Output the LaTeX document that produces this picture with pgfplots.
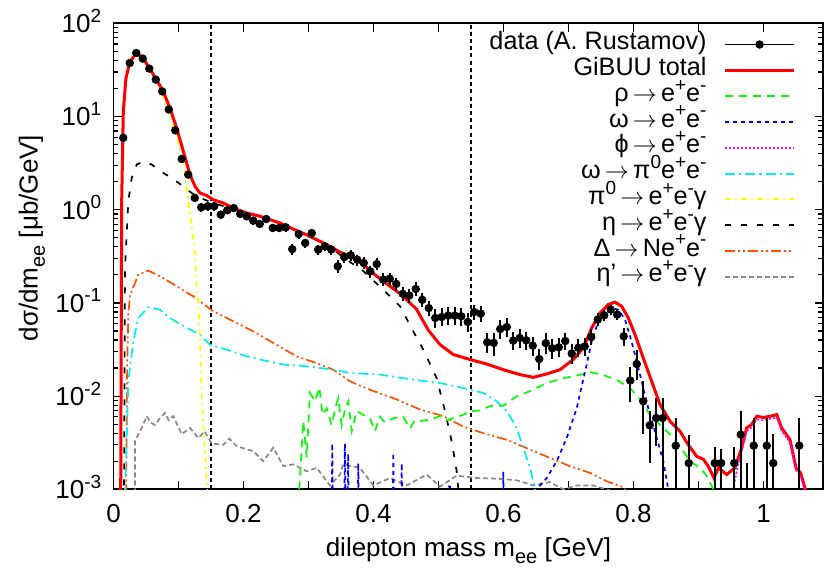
\documentclass[border=0pt]{standalone}
\usepackage{fontspec}
\setmainfont{Liberation Sans}
\usepackage{pgfplots}
\usepackage{pgfplotstable}
\pgfplotsset{compat=1.18}
\newcommand{\sups}[1]{\raisebox{0.4em}{\fontsize{9.5}{10}\selectfont #1}}
\newcommand{\subs}[1]{\raisebox{-0.28em}{\fontsize{10}{11}\selectfont #1}}
\newcommand{\ar}{\,$\rightarrow$\,}
\definecolor{cgreen}{RGB}{0,255,0}
\definecolor{cblue}{RGB}{0,0,255}
\definecolor{cmag}{RGB}{255,0,255}
\definecolor{ccyan}{RGB}{0,240,240}
\definecolor{cyel}{RGB}{255,255,0}
\definecolor{corange}{RGB}{255,80,0}
\definecolor{cgray}{RGB}{136,136,136}
\definecolor{cred}{RGB}{255,0,0}

\pgfplotstableread{
x y ylo yhi
0.015 5.9 5.7 6.1
0.025 37.5 36.4 38.6
0.035 48 46.6 49.4
0.045 41.8 40.6 43
0.055 32.7 31.7 33.7
0.065 24.9 24.2 25.6
0.075 18.6 18 19.2
0.085 11.9 11.5 12.3
0.095 7.1 6.85 7.35
0.105 3.5 3.35 3.65
0.115 2.38 2.25 2.5
0.125 1.34 1.2 1.48
0.135 1.06 0.95 1.17
0.145 1.09 0.98 1.2
0.155 1.09 0.98 1.2
0.165 0.885 0.8 0.97
0.175 0.986 0.89 1.08
0.185 1.04 0.94 1.14
0.195 0.90 0.81 0.99
0.205 0.85 0.77 0.93
0.215 0.764 0.69 0.84
0.225 0.703 0.63 0.78
0.235 0.795 0.72 0.87
0.245 0.637 0.57 0.70
0.255 0.637 0.57 0.70
0.265 0.647 0.58 0.71
0.275 0.378 0.33 0.43
0.285 0.548 0.49 0.61
0.295 0.44 0.39 0.49
0.305 0.562 0.5 0.62
0.315 0.373 0.33 0.42
0.325 0.405 0.36 0.45
0.335 0.373 0.33 0.42
0.345 0.247 0.21 0.29
0.355 0.31 0.27 0.35
0.365 0.324 0.28 0.37
0.375 0.291 0.25 0.33
0.385 0.268 0.23 0.31
0.395 0.218 0.185 0.25
0.405 0.261 0.225 0.30
0.415 0.178 0.15 0.21
0.425 0.182 0.155 0.21
0.435 0.160 0.135 0.185
0.445 0.125 0.104 0.148
0.455 0.120 0.1 0.142
0.465 0.141 0.118 0.166
0.475 0.108 0.09 0.128
0.485 0.088 0.073 0.105
0.495 0.0689 0.054 0.086
0.505 0.0706 0.056 0.088
0.515 0.073 0.058 0.09
0.525 0.073 0.058 0.09
0.535 0.072 0.057 0.089
0.545 0.0624 0.049 0.078
0.555 0.0798 0.066 0.095
0.565 0.0767 0.063 0.092
0.575 0.0378 0.029 0.048
0.585 0.0372 0.027 0.048
0.595 0.0525 0.041 0.066
0.605 0.0551 0.043 0.069
0.615 0.0394 0.031 0.049
0.625 0.042 0.033 0.052
0.635 0.0397 0.031 0.049
0.645 0.0348 0.027 0.043
0.655 0.025 0.019 0.032
0.665 0.037 0.028 0.047
0.675 0.0326 0.025 0.041
0.685 0.0334 0.026 0.042
0.695 0.039 0.031 0.048
0.705 0.0286 0.022 0.036
0.715 0.033 0.026 0.041
0.725 0.0342 0.027 0.042
0.735 0.043 0.035 0.052
0.745 0.0662 0.056 0.077
0.755 0.0736 0.064 0.084
0.765 0.0848 0.075 0.095
0.775 0.0749 0.065 0.086
0.785 0.0438 0.0342 0.054
0.795 0.0147 0.0087 0.0204
0.805 0.0221 0.015 0.0315
0.815 0.0088 0.0039 0.0144
0.825 0.00486 0.0019 0.0069
0.835 0.00582 0.0029 0.0095
0.845 0.00582 0.000001 0.0095
0.865 0.00294 0.000001 0.0058
0.885 0.00191 0.000001 0.0038
0.925 0.00191 0.000001 0.00285
0.935 0.00191 0.000001 0.0027
0.955 0.00191 0.000001 0.00285
0.965 0.00386 0.000001 0.0069
0.975 0.00098 0.000001 0.0019
0.985 0.00294 0.000001 0.0058
1.005 0.00294 0.000001 0.0058
1.015 0.00191 0.000001 0.0039
1.055 0.00294 0.000001 0.0058
}\datatab

\begin{document}
\begin{tikzpicture}
\useasboundingbox (-56.75pt,-39.35pt) rectangle (356.25pt,244.65pt);
\begin{axis}[
  scale only axis, width=354.9pt, height=233pt,
  at={(0pt,0pt)}, anchor=south west,
  xmin=0, xmax=1.092, ymin=1e-3, ymax=1e2, ymode=log,
  xtick={0,0.1,0.2,0.3,0.4,0.5,0.6,0.7,0.8,0.9,1.0},
  xticklabels={0,,0.2,,0.4,,0.6,,0.8,,1},
  ytick={1e-3,1e-2,1e-1,1,1e1,1e2},
  yticklabels={10\sups{-3},10\sups{-2},10\sups{-1},10\sups{0},10\sups{1},10\sups{2}},
  tick label style={font=\fontsize{13}{15}\selectfont, text height=9.3pt, text depth=0pt},
  xticklabel style={yshift=-3.7pt},
  yticklabel style={xshift=-2.6pt},
  major tick length=4.2pt, minor tick length=2.4pt,
  tick style={line width=0.6pt, black},
  axis line style={line width=0.9pt},
  label style={font=\fontsize{13}{15}\selectfont},
  xlabel={dilepton mass m\subs{ee} [GeV]},
  ylabel={dσ/dm\subs{ee} [μb/GeV]},
  xlabel style={at={(axis description cs:0.5,-0.131)}, anchor=center},
  ylabel style={at={(axis description cs:-0.1148,0.539)}, anchor=center},
  legend plot pos=right,
  legend cell align=right,
  legend image code/.code={\draw[#1] (0pt,0pt) -- (34.5pt,0pt);},
  legend style={draw=none, fill=none, at={(axis description cs:0.9615,0.983)}, anchor=north east,
    inner sep=0pt, row sep=0pt, column sep=8.5pt,
    font=\fontsize{12.6}{14}\selectfont,
    nodes={inner sep=0pt, text height=9pt, text depth=3.9pt}},
]
% legend entries
\addlegendimage{black, legend image code/.code={\draw[black,line width=0.6pt] (0pt,0pt) -- (34.5pt,0pt); \fill[black] (17.25pt,0pt) circle (1.9pt);}}
\addlegendentry{data (A. Rustamov)}
\addlegendimage{cred, line width=1.5pt}
\addlegendentry{GiBUU total}
\addlegendimage{cgreen, line width=0.85pt, dash pattern=on 4pt off 3pt}
\addlegendentry{ρ\ar e\sups{+}e\sups{-}}
\addlegendimage{cblue, line width=0.85pt, dash pattern=on 2pt off 2pt}
\addlegendentry{ω\ar e\sups{+}e\sups{-}}
\addlegendimage{cmag, line width=0.85pt, dash pattern=on 1pt off 1pt}
\addlegendentry{ϕ\ar e\sups{+}e\sups{-}}
\addlegendimage{ccyan, line width=1pt, dash pattern=on 5pt off 2pt on 1.2pt off 2pt}
\addlegendentry{ω\ar π\sups{0}e\sups{+}e\sups{-}}
\addlegendimage{cyel, line width=0.85pt, dash pattern=on 3pt off 2pt on 1pt off 2pt}
\addlegendentry{π\sups{0}\ar e\sups{+}e\sups{-}γ}
\addlegendimage{black, line width=0.85pt, dash pattern=on 3pt off 5pt}
\addlegendentry{η\ar e\sups{+}e\sups{-}γ}
\addlegendimage{corange, line width=0.85pt, dash pattern=on 5pt off 1.5pt on 1pt off 1.5pt on 1pt off 1.5pt}
\addlegendentry{Δ\ar Ne\sups{+}e\sups{-}}
\addlegendimage{cgray, line width=0.85pt, dash pattern=on 2.5pt off 1.5pt}
\addlegendentry{η’\ar e\sups{+}e\sups{-}γ}

% vertical dashed lines
\addplot[forget plot, black, line width=0.8pt, dash pattern=on 2pt off 1.6pt] coordinates {(0.15,0.001)(0.15,100)};
\addplot[forget plot, black, line width=0.8pt, dash pattern=on 2pt off 1.6pt] coordinates {(0.55,0.001)(0.55,100)};

% eta' (gray)
\addplot[forget plot, cgray, line width=0.85pt, dash pattern=on 2.5pt off 1.5pt] coordinates {
(0.033,0.0005)(0.0331,0.0033)(0.0434,0.00455)(0.0511,0.0061)(0.057,0.0052)(0.0638,0.0049)(0.0715,0.0058)(0.0792,0.0066)(0.085,0.0055)(0.092,0.0061)(0.1049,0.0039)(0.1177,0.00455)(0.1305,0.00355)(0.14,0.0042)(0.151,0.0031)(0.1689,0.003)(0.178,0.0035)(0.1895,0.0029)(0.2151,0.00256)(0.2305,0.002)(0.2458,0.0028)(0.2612,0.00177)(0.2766,0.00185)(0.2972,0.00156)(0.3126,0.0017)(0.333,0.0011)(0.3485,0.00144)(0.3535,0.00185)(0.3792,0.0017)(0.3997,0.0011)(0.4254,0.00132)(0.451,0.0011)(0.4818,0.00144)(0.5023,0.00107)(0.528,0.0014)(0.5588,0.00132)(0.5895,0.0013)(0.6203,0.00125)(0.6458,0.0011)(0.6715,0.0012)(0.692,0.001)(0.7126,0.0011)(0.738,0.0011)(0.7638,0.00097)(0.77,0.0007)};

% Delta (orange)
\addplot[forget plot, corange, line width=0.85pt, dash pattern=on 5pt off 1.5pt on 1pt off 1.5pt on 1pt off 1.5pt] coordinates {
(0.0185,0.0005)(0.0195,0.001)(0.021,0.02)(0.0228,0.0748)(0.0254,0.123)(0.028,0.133)(0.0382,0.201)(0.0535,0.222)(0.0715,0.193)(0.0972,0.151)(0.1177,0.123)(0.128,0.113)(0.1331,0.104)(0.1535,0.0813)(0.1843,0.0635)(0.215,0.0495)(0.2458,0.0372)(0.2818,0.0267)(0.3126,0.0226)(0.3382,0.0192)(0.3638,0.0144)(0.3946,0.0117)(0.4357,0.0092)(0.4715,0.0072)(0.5074,0.0061)(0.538,0.0047)(0.569,0.004)(0.605,0.0034)(0.6408,0.00267)(0.6715,0.00217)(0.7023,0.00177)(0.733,0.0015)(0.7588,0.00122)(0.7843,0.00105)(0.787,0.001)(0.79,0.0007)};

% omega Dalitz (cyan)
\addplot[forget plot, ccyan, line width=0.85pt, dash pattern=on 5pt off 2pt on 1pt off 2pt] coordinates {
(0.0172,0.0005)(0.0177,0.001)(0.0203,0.0033)(0.0228,0.0144)(0.0305,0.0387)(0.0382,0.0689)(0.0535,0.0897)(0.0715,0.0848)(0.0869,0.0689)(0.1126,0.0538)(0.1331,0.0457)(0.1485,0.0357)(0.1742,0.0315)(0.1997,0.0274)(0.2254,0.0247)(0.2612,0.0218)(0.2972,0.0209)(0.3382,0.0192)(0.3638,0.0177)(0.41,0.017)(0.4612,0.015)(0.5023,0.0138)(0.538,0.0122)(0.569,0.0108)(0.5895,0.0088)(0.605,0.0069)(0.6203,0.00455)(0.6305,0.00277)(0.6408,0.0017)(0.6485,0.001)(0.651,0.0006)};

% eta Dalitz (black)
\addplot[forget plot, black, line width=0.85pt, dash pattern=on 3pt off 5pt] coordinates {
(0.016,0.0005)(0.0162,0.001)(0.0177,0.237)(0.0228,1.23)(0.028,2.19)(0.0357,3.05)(0.0458,3.3)(0.0588,3.05)(0.0766,2.48)(0.0895,2.19)(0.1074,1.78)(0.1203,1.51)(0.1331,1.34)(0.1535,1.18)(0.205,0.92)(0.255,0.72)(0.305,0.5)(0.335,0.39)(0.356,0.298)(0.3818,0.228)(0.4177,0.133)(0.4408,0.092)(0.4612,0.0495)(0.4766,0.0315)(0.4972,0.0156)(0.51,0.0069)(0.5203,0.00327)(0.528,0.00156)(0.5305,0.001)(0.532,0.0005)};

% rho (green)
\addplot[forget plot, cgreen, line width=0.85pt, dash pattern=on 4pt off 3pt] coordinates {
(0.2855,0.0005)(0.2858,0.001)(0.292,0.0054)(0.2972,0.0022)(0.3023,0.0108)(0.31,0.0088)(0.3166,0.0124)(0.3218,0.0063)(0.328,0.0074)(0.3357,0.0049)(0.3434,0.0085)(0.3458,0.0095)(0.351,0.0049)(0.3565,0.0074)(0.3612,0.0088)(0.3665,0.0042)(0.374,0.0069)(0.3843,0.0063)(0.3946,0.0058)(0.4023,0.0042)(0.41,0.006)(0.4177,0.0052)(0.4305,0.0058)(0.4458,0.006)(0.456,0.0045)(0.4637,0.0055)(0.4715,0.0054)(0.487,0.0056)(0.5023,0.0061)(0.5125,0.0055)(0.5228,0.0058)(0.538,0.0063)(0.5485,0.0069)(0.564,0.007)(0.579,0.0078)(0.5997,0.0079)(0.620,0.0099)(0.6408,0.0113)(0.6665,0.0138)(0.692,0.0156)(0.7074,0.0163)(0.728,0.0177)(0.733,0.0181)(0.7535,0.0168)(0.774,0.015)(0.7946,0.0122)(0.81,0.0092)(0.8254,0.0063)(0.8408,0.0049)(0.856,0.0039)(0.8715,0.0029)(0.887,0.002)(0.9023,0.0017)(0.9126,0.0014)(0.9228,0.001)(0.925,0.0007)};

% omega (blue)
\addplot[forget plot, cblue, line width=0.85pt, dash pattern=on 2pt off 2pt] coordinates {
(0.335,0.0002)(0.3366,0.0031)(0.338,0.0002)(0.3545,0.0002)(0.356,0.0031)(0.3575,0.0002)(0.3595,0.0002)(0.361,0.0024)(0.3625,0.0002)(0.375,0.0002)(0.3766,0.0019)(0.378,0.0002)(0.429,0.0002)(0.4305,0.00245)(0.432,0.0002)(0.442,0.0002)(0.4434,0.0019)(0.445,0.0002)(0.511,0.0002)(0.5126,0.00107)(0.5177,0.00107)(0.519,0.0002)(0.598,0.0002)(0.5997,0.00155)(0.601,0.0002)(0.649,0.0005)(0.651,0.001)(0.6665,0.00132)(0.6818,0.002)(0.6972,0.00355)(0.7126,0.0074)(0.728,0.0218)(0.7357,0.0387)(0.7485,0.0718)(0.7638,0.088)(0.7766,0.0848)(0.787,0.0662)(0.797,0.0387)(0.81,0.017)(0.8228,0.0074)(0.8357,0.00356)(0.8458,0.002)(0.8535,0.001)(0.856,0.0005)};

% pi0 Dalitz (yellow)
\addplot[forget plot, cyel, line width=0.85pt, dash pattern=on 3pt off 2pt on 1pt off 2pt] coordinates {
(0.0100,0.0005)(0.0105,0.001)(0.0122,1.0)(0.0147,10)(0.019,24)(0.025,37)(0.034,45)(0.043,43)(0.053,34)(0.0638,26)(0.0715,20.2)(0.0842,11.4)(0.0949,6.9)(0.1024,4.6)(0.1102,2.38)(0.1153,1.23)(0.1205,0.637)(0.1255,0.33)(0.128,0.145)(0.1307,0.096)(0.1331,0.0387)(0.1358,0.0095)(0.141,0.00235)(0.1434,0.0012)(0.1445,0.001)(0.146,0.0005)};

% GiBUU total (red)
\addplot[forget plot, cred, line width=1.5pt] coordinates {
(0.0105,0.0003)(0.0111,0.001)(0.0126,1.23)(0.0151,11.4)(0.0192,25.9)(0.0254,39)(0.0346,46.9)(0.0434,44.3)(0.0535,34.6)(0.0638,26.4)(0.0766,18.6)(0.0869,12.3)(0.0972,7.5)(0.1074,4.24)(0.1177,2.38)(0.1254,1.78)(0.1331,1.51)(0.1434,1.42)(0.1535,1.28)(0.1689,1.18)(0.1843,1.04)(0.2049,0.922)(0.2254,0.85)(0.256,0.72)(0.2766,0.62)(0.302,0.519)(0.328,0.422)(0.351,0.343)(0.364,0.32)(0.3843,0.258)(0.405,0.193)(0.4254,0.151)(0.4458,0.118)(0.4665,0.0848)(0.4843,0.051)(0.5023,0.0357)(0.5228,0.0279)(0.5485,0.0247)(0.574,0.0221)(0.5997,0.0192)(0.6254,0.017)(0.6458,0.0159)(0.6665,0.0173)(0.687,0.0192)(0.7074,0.0247)(0.7228,0.0328)(0.7357,0.0538)(0.7485,0.078)(0.7612,0.096)(0.7715,0.102)(0.7818,0.092)(0.792,0.069)(0.8023,0.0457)(0.815,0.0257)(0.828,0.0144)(0.8408,0.0081)(0.856,0.0054)(0.8715,0.0042)(0.8843,0.003)(0.8972,0.00226)(0.9074,0.0021)(0.915,0.00177)(0.9238,0.00132)(0.9305,0.0017)(0.9434,0.00144)(0.956,0.0017)(0.9665,0.00277)(0.974,0.00455)(0.9818,0.00494)(0.9895,0.00607)(0.9997,0.0059)(1.010,0.00607)(1.0203,0.00633)(1.028,0.00455)(1.0408,0.0034)(1.050,0.0017)(1.057,0.0015)(1.0645,0.001)(1.067,0.0005)};

% phi (magenta)
\addplot[forget plot, cmag, line width=0.85pt, dash pattern=on 1pt off 1pt] coordinates {
(0.951,0.0005)(0.9535,0.001)(0.9605,0.0018)(0.9665,0.0026)(0.974,0.0042)(0.9818,0.0046)(0.9895,0.0056)(0.9997,0.0055)(1.010,0.0057)(1.0203,0.0059)(1.028,0.0042)(1.0408,0.0032)(1.050,0.0016)(1.057,0.0014)(1.0645,0.0009)};

% data
\addplot[forget plot, only marks, black, mark=*, mark size=1.9pt,
  error bars/.cd, y dir=both, y explicit, error mark=none,
  error bar style={line width=1pt, black}]
  table[x=x, y=y, y error plus expr=\thisrow{yhi}-\thisrow{y}, y error minus expr=\thisrow{y}-\thisrow{ylo}] {\datatab};
\end{axis}
\end{tikzpicture}
\end{document}
